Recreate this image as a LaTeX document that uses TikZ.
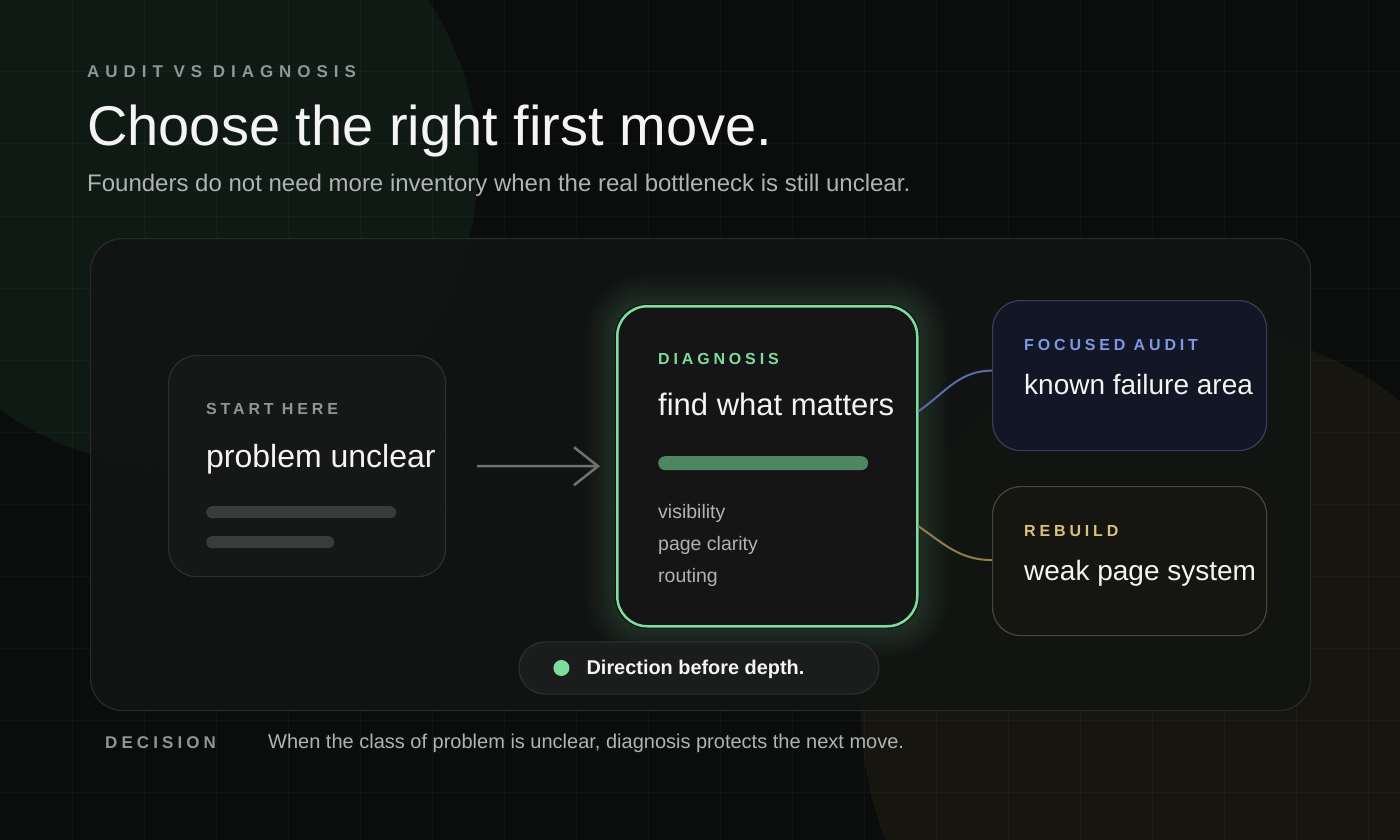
\documentclass[tikz,border=0pt]{standalone}
\usepackage{fontspec}
\setmainfont{Liberation Sans}
\newfontfamily\kickerfont[LetterSpace=35]{Liberation Sans}
\newfontfamily\tagfont[LetterSpace=24]{Liberation Sans}
\usepackage{tikz}
\usetikzlibrary{arrows.meta,positioning}
\usepackage{xcolor}

\definecolor{bg}{HTML}{0B0D0C}
\definecolor{glowgreen}{HTML}{0F1A15}
\definecolor{glowgold}{HTML}{16150F}
\definecolor{cardfill}{HTML}{121413}
\definecolor{cardline}{HTML}{262C29}
\definecolor{boxfill}{HTML}{161817}
\definecolor{boxline}{HTML}{2C2F2E}
\definecolor{ink}{HTML}{F3F4F3}
\definecolor{soft}{HTML}{AEB4B1}
\definecolor{muted}{HTML}{8F9693}
\definecolor{barcol}{HTML}{3A3C3B}
\definecolor{diaggreen}{HTML}{7EDC9E}
\definecolor{diagbarcol}{HTML}{4F8662}
\definecolor{diagfill}{HTML}{141514}
\definecolor{auditblue}{HTML}{7F97E6}
\definecolor{auditfill}{HTML}{131725}
\definecolor{auditline}{HTML}{353D5A}
\definecolor{auditlink}{HTML}{5B6AA8}
\definecolor{rebuildgold}{HTML}{D9C27A}
\definecolor{rebuildfill}{HTML}{151512}
\definecolor{rebuildline}{HTML}{4B4632}
\definecolor{rebuildlink}{HTML}{8B7F4C}
\definecolor{pillfill}{HTML}{1B1D1C}
\definecolor{arrowcol}{HTML}{6F7371}

\tikzset{
  gridline/.style={white,opacity=0.03,line width=1pt},
  panel/.style={draw,rounded corners=28pt,inner sep=0pt,anchor=north west,line width=1.2pt},
  kicker/.style={inner sep=0pt,anchor=base west,text=muted,font={\kickerfont\bfseries\fontsize{17}{20}\selectfont}},
  tag/.style={inner sep=0pt,anchor=base west,font={\tagfont\bfseries\fontsize{16}{18}\selectfont}},
  headline/.style={inner sep=0pt,anchor=base west,text=ink,font={\fontsize{31}{34}\selectfont}},
  smallhead/.style={inner sep=0pt,anchor=base west,text=ink,font={\fontsize{28}{32}\selectfont}},
  listitem/.style={inner sep=0pt,anchor=base west,text=soft,font={\fontsize{19.5}{22}\selectfont}},
  bar/.style={inner sep=0pt,anchor=north west,rounded corners=6pt,minimum height=12pt},
  link/.style={line width=2pt},
}

\begin{document}
\begin{tikzpicture}[x=1pt,y=-1pt]
\useasboundingbox (0,0) rectangle (1400,840);
% backdrop
\fill[bg] (0,0) rectangle (1400,840);
\begin{scope}
  \clip (0,0) rectangle (1400,840);
  \fill[glowgreen] (177,166) circle (301pt);
  \fill[glowgold] (1200,700) ellipse (340pt and 370pt);
  \foreach \g in {72,144,...,1368} \draw[gridline] (\g,0) -- (\g,840);
  \foreach \g in {72,144,...,792} \draw[gridline] (0,\g) -- (1400,\g);
\end{scope}

% header
\node[kicker] (kicker) at (87,78) {AUDIT VS DIAGNOSIS};
\node[inner sep=0pt,anchor=base west,text=ink,font={\fontsize{56}{60}\selectfont}] (title) at (87,146) {Choose the right first move.};
\node[inner sep=0pt,anchor=base west,text=soft,font={\fontsize{24}{27}\selectfont}] (sub) at (87,191) {Founders do not need more inventory when the real bottleneck is still unclear.};

% main card
\node[panel,rounded corners=32pt,draw=cardline,fill=cardfill,fill opacity=0.94,minimum width=1220pt,minimum height=472pt] (card) at (90,238) {};

% start box
\node[panel,draw=boxline,fill=boxfill,minimum width=277pt,minimum height=221pt] (start) at (168,355) {};
\node[tag,text=muted] (startlbl) at ([shift={(38,59)}]start.north west) {START HERE};
\node[headline,font={\fontsize{32}{34}\selectfont}] (starttxt) at ([shift={(38,112)}]start.north west) {problem unclear};
\node[bar,fill=barcol,minimum width=190pt] (barA) at ([shift={(38,151)}]start.north west) {};
\node[bar,fill=barcol,minimum width=128pt] (barB) at ([shift={(38,181)}]start.north west) {};

% diagnosis box with glow
\node[panel,rounded corners=30pt,draw=diaggreen,line width=2.5pt,fill=diagfill,minimum width=300pt,minimum height=320pt] (diag) at (616,305) {};
\foreach \d in {2,4,...,30}
  \draw[diaggreen,line width=2.2pt,opacity={0.12*(1-\d/32)},rounded corners={30pt+\d pt}]
    ([shift={(-\d,-\d)}]diag.north west) rectangle ([shift={(\d,\d)}]diag.south east);
\node[tag,text=diaggreen] (diaglbl) at ([shift={(42,59)}]diag.north west) {DIAGNOSIS};
\node[headline] (diagtxt) at ([shift={(42,110)}]diag.north west) {find what matters};
\node[bar,fill=diagbarcol,minimum width=210pt,minimum height=14pt,rounded corners=7pt] (diagbar) at ([shift={(42,151)}]diag.north west) {};
\node[listitem] (item1) at ([shift={(42,213)}]diag.north west) {visibility};
\node[listitem] (item2) at ([shift={(42,245)}]diag.north west) {page clarity};
\node[listitem] (item3) at ([shift={(42,277)}]diag.north west) {routing};

% outcome boxes
\node[panel,draw=auditline,fill=auditfill,minimum width=274pt,minimum height=150pt] (audit) at (992,300) {};
\node[tag,text=auditblue] (auditlbl) at ([shift={(32,50)}]audit.north west) {FOCUSED AUDIT};
\node[smallhead] (audittxt) at ([shift={(32,94)}]audit.north west) {known failure area};

\node[panel,draw=rebuildline,fill=rebuildfill,minimum width=274pt,minimum height=149pt] (rebuild) at (992,486) {};
\node[tag,text=rebuildgold] (rebuildlbl) at ([shift={(32,50)}]rebuild.north west) {REBUILD};
\node[smallhead] (rebuildtxt) at ([shift={(32,94)}]rebuild.north west) {weak page system};

% pill
\node[draw=boxline,line width=1.2pt,fill=pillfill,rounded corners=26pt,minimum width=360pt,minimum height=52pt,inner sep=0pt] (pill) at (699,668) {};
\node[circle,fill=diaggreen,inner sep=0pt,minimum size=16pt] (dot) at ([xshift=43pt]pill.west) {};
\node[inner sep=0pt,anchor=base west,text=ink,font={\bfseries\fontsize{19.9}{22}\selectfont}] (pilltxt) at ([shift={(68,6)}]pill.west) {Direction before depth.};

% footer
\node[inner sep=0pt,anchor=base west,text=muted,font={\tagfont\bfseries\fontsize{17}{20}\selectfont}] (decision) at (105,748) {DECISION};
\node[inner sep=0pt,anchor=base west,text=soft,font={\fontsize{20}{24}\selectfont}] (decisiontxt) at (268,748) {When the class of problem is unclear, diagnosis protects the next move.};

% connectors
\draw[arrowcol,line width=2.5pt,shorten <=31pt,shorten >=16pt,-{Straight Barb[length=24pt,width=38pt]}] (start) -- (diag);
\draw[link,auditlink] ([yshift=55pt]diag.east) to[out=35,in=180] ([yshift=5pt]audit.west);
\draw[link,rebuildlink] ([yshift=-60pt]diag.east) to[out=-35,in=180] ([yshift=1pt]rebuild.west);
\end{tikzpicture}
\end{document}
